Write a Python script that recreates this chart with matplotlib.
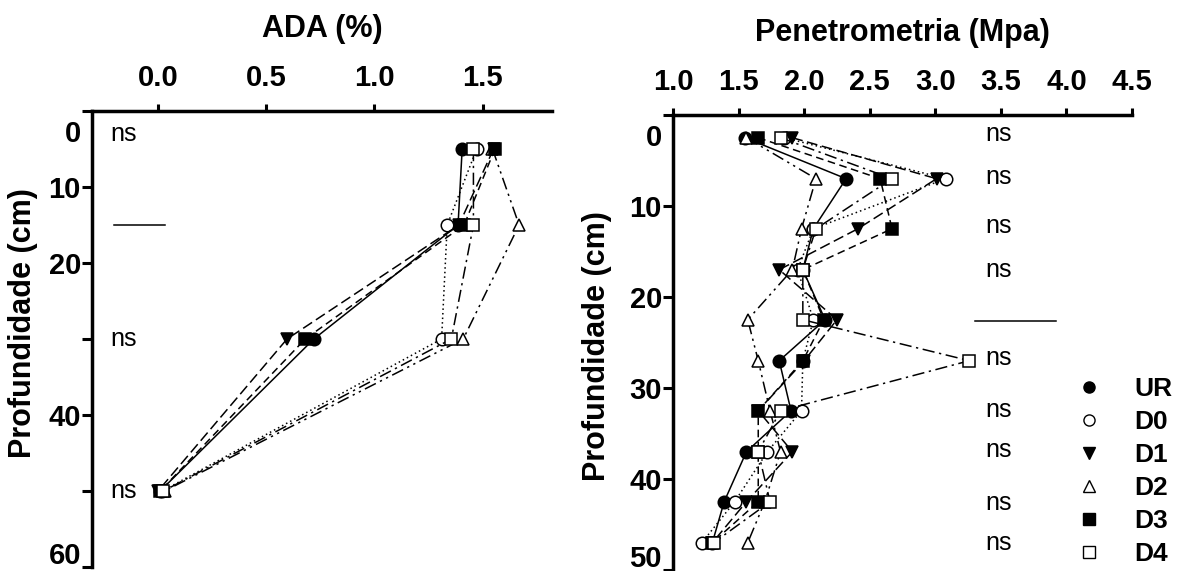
import numpy as np
import matplotlib
matplotlib.use("Agg")
import matplotlib.pyplot as plt
import matplotlib.transforms as mtransforms
from matplotlib.lines import Line2D

plt.rcParams['font.family'] = ['Liberation Sans', 'DejaVu Sans']

# ADA (%) by depth
ada_depth = [5, 15, 30, 50]
ada = {
    'UR': [1.405, 1.386, 0.72, 0.01],
    'D0': [1.472, 1.336, 1.31, 0.02],
    'D1': [1.55, 1.39, 0.596, 0.0],
    'D2': [1.545, 1.668, 1.41, 0.03],
    'D3': [1.556, 1.414, 0.68, 0.01],
    'D4': [1.457, 1.457, 1.355, 0.025],
}

# Penetrometria (Mpa) by depth
pen_depth = [2.5, 7, 12.5, 17, 22.5, 27, 32.5, 37, 42.5, 47]
pen = {
    'UR': [1.55, 2.32, 2.07, 1.99, 2.16, 1.81, 1.90, 1.56, 1.39, 1.30],
    'D0': [1.85, 3.08, 2.07, 1.95, 2.07, 1.99, 1.98, 1.72, 1.47, 1.22],
    'D1': [1.91, 3.01, 2.41, 1.81, 2.25, 2.00, 1.65, 1.91, 1.56, 1.30],
    'D2': [1.56, 2.09, 1.98, 1.91, 1.57, 1.65, 1.74, 1.82, 1.70, 1.57],
    'D3': [1.65, 2.58, 2.67, 1.99, 2.15, 1.99, 1.65, 1.65, 1.65, 1.30],
    'D4': [1.82, 2.67, 2.09, 1.99, 1.99, 3.26, 1.82, 1.65, 1.74, 1.31],
}

# "ns" annotations (depth positions)
ada_ns_depth = [3, 30, 50]
pen_ns_depth = [2.1, 6.8, 12.2, 17, 26.7, 32.4, 36.8, 42.6, 47]

styles = {
    'UR': dict(marker='o', mfc='black', ls='-'),
    'D0': dict(marker='o', mfc='white', ls=(0, (1, 2))),
    'D1': dict(marker='v', mfc='black', ls=(0, (7, 3))),
    'D2': dict(marker='^', mfc='white', ls=(0, (8, 3, 1.5, 3, 1.5, 3))),
    'D3': dict(marker='s', mfc='black', ls=(0, (5, 3))),
    'D4': dict(marker='s', mfc='white', ls=(0, (8, 3, 1.5, 3))),
}

fig = plt.figure(figsize=(11.84, 5.71), dpi=100)
W, H = 1184, 571
ax1 = fig.add_axes([92 / W, 1 - 567 / H, 460 / W, 456 / H])
ax2 = fig.add_axes([673 / W, 1 - 570 / H, 459 / W, 455 / H])

for name, st in styles.items():
    ax1.plot(ada[name], ada_depth, color='black', lw=1.1, ls=st['ls'],
             marker=st['marker'], mfc=st['mfc'], mec='black', ms=9, mew=1.1)
    ax2.plot(pen[name], pen_depth, color='black', lw=1.1, ls=st['ls'],
             marker=st['marker'], mfc=st['mfc'], mec='black', ms=9, mew=1.1)


def style_axis(ax, xlim, ylim, xticks, yticks, title, ylab_xy):
    ax.set_xlim(*xlim)
    ax.set_ylim(*ylim)
    ax.xaxis.tick_top()
    ax.spines['bottom'].set_visible(False)
    ax.spines['right'].set_visible(False)
    for s in ['top', 'left']:
        ax.spines[s].set_linewidth(2.5)
    ax.set_xticks(xticks)
    ax.set_xticklabels(['%.1f' % t for t in xticks])
    ax.set_yticks(yticks)
    ax.tick_params(axis='x', length=5, width=2.2, pad=9, labelsize=21)
    ax.tick_params(axis='y', which='both', length=7, width=2.2, pad=1, labelsize=21)
    for lab in ax.get_xticklabels() + ax.get_yticklabels():
        lab.set_fontweight('bold')
    ax.set_ylabel('Profundidade (cm)', fontsize=22, fontweight='bold')
    ax.yaxis.set_label_coords(*ylab_xy)
    ax.text(0.5, 1.18, title, transform=ax.transAxes, ha='center', va='center',
            fontsize=22, fontweight='bold')
    # shift end labels inward like the original
    labs = ax.get_yticklabels()
    labs[0].set_transform(labs[0].get_transform() +
                          mtransforms.ScaledTranslation(0, -20 / 100, fig.dpi_scale_trans))
    labs[-1].set_transform(labs[-1].get_transform() +
                           mtransforms.ScaledTranslation(0, 14 / 100, fig.dpi_scale_trans))


style_axis(ax1, (-0.305, 1.82), (60, 0), [0.0, 0.5, 1.0, 1.5], [0, 10, 20, 40, 60],
           'ADA (%)', (-0.117, 0.536))
ax1.set_yticks([30, 50], minor=True)
style_axis(ax2, (1.0, 4.5), (50, 0), [1.0, 1.5, 2.0, 2.5, 3.0, 3.5, 4.0, 4.5],
           [0, 10, 20, 30, 40, 50], 'Penetrometria (Mpa)', (-0.133, 0.492))

for d in ada_ns_depth:
    ax1.text(-0.22, d, 'ns', fontsize=18, va='center', ha='left')
ax1.plot([-0.204, 0.032], [15, 15], color='black', lw=1.1, clip_on=False)

for d in pen_ns_depth:
    ax2.text(3.38, d, 'ns', fontsize=18, va='center', ha='left')
ax2.plot([3.30, 3.92], [22.6, 22.6], color='black', lw=1.1, clip_on=False)

handles = [Line2D([], [], ls='none', marker=st['marker'], mfc=st['mfc'], mec='black',
                  ms=8, mew=1.0, color='black') for st in styles.values()]
ax2.legend(handles, list(styles.keys()), loc='upper left', bbox_to_anchor=(0.855, 0.447),
           frameon=False, prop={'weight': 'bold', 'size': 19}, labelspacing=0.34,
           handletextpad=1.2, handlelength=1.0, borderaxespad=0)

fig.savefig('out.png', dpi=100)
